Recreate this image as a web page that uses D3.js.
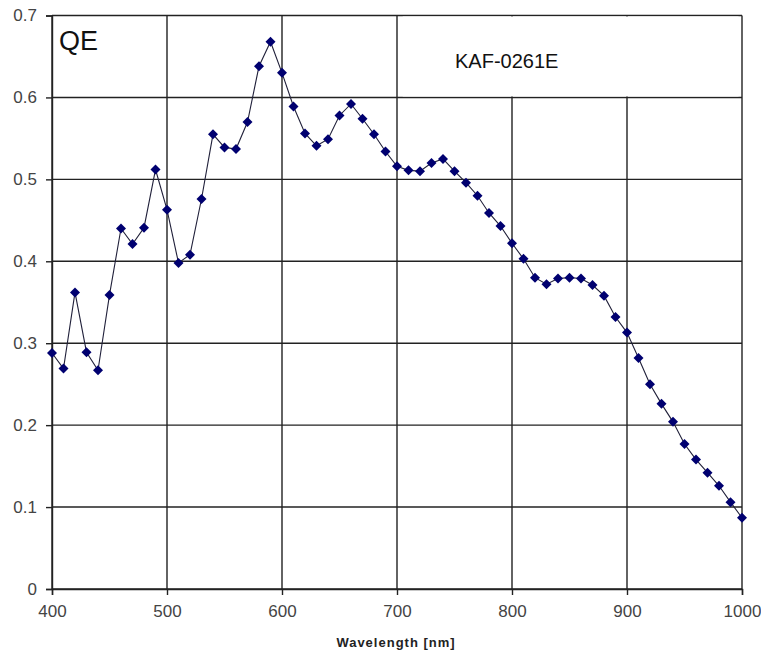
<!DOCTYPE html>
<html>
<head>
<meta charset="utf-8">
<script src="https://cdn.jsdelivr.net/npm/d3@7"></script>
<style>
  body { margin: 0; background: #fff; }
  svg { display: block; font-family: Arial, "Liberation Sans", sans-serif; }
</style>
</head>
<body>
<div id="chart"></div>
<script>
// wavelength in nm, every 10 nm
const wavelengths = d3.range(400, 1001, 10);
const qe = [
  0.288, 0.269, 0.362, 0.289, 0.267, 0.359, 0.440, 0.421, 0.441, 0.512,
  0.463, 0.398, 0.408, 0.476, 0.555, 0.539, 0.537, 0.570, 0.638, 0.668,
  0.630, 0.589, 0.556, 0.541, 0.549, 0.578, 0.592, 0.574, 0.555, 0.534,
  0.516, 0.511, 0.510, 0.520, 0.525, 0.510, 0.496, 0.480, 0.459, 0.443,
  0.422, 0.403, 0.380, 0.372, 0.379, 0.380, 0.379, 0.371, 0.358, 0.332,
  0.313, 0.282, 0.250, 0.226, 0.204, 0.177, 0.158, 0.142, 0.126, 0.106,
  0.087
];
const xTicks = [400, 500, 600, 700, 800, 900, 1000];
const yTicks = [0, 0.1, 0.2, 0.3, 0.4, 0.5, 0.6, 0.7];

const data = wavelengths.map((w, i) => ({ w: w, v: qe[i] }));

const W = 761, H = 653;
const plotLeft = 52, plotRight = 742, plotTop = 15.5, plotBottom = 589;

const svg = d3.select("#chart").append("svg")
  .attr("width", W)
  .attr("height", H);

const x = d3.scaleLinear().domain([400, 1000]).range([plotLeft, plotRight]);
const y = d3.scaleLinear().domain([0, 0.7]).range([plotBottom, plotTop]);

const gridColor = "#222";

// gridlines
svg.append("g").selectAll("line")
  .data(yTicks)
  .join("line")
  .attr("x1", plotLeft).attr("x2", plotRight)
  .attr("y1", d => y(d)).attr("y2", d => y(d))
  .attr("stroke", gridColor)
  .attr("stroke-width", 1.4);

svg.append("g").selectAll("line")
  .data(xTicks)
  .join("line")
  .attr("x1", d => x(d)).attr("x2", d => x(d))
  .attr("y1", plotTop).attr("y2", plotBottom)
  .attr("stroke", gridColor)
  .attr("stroke-width", 1.4);

// label box hides the grid behind the sensor name
svg.append("rect")
  .attr("x", x(705)).attr("y", y(0.7) + 1)
  .attr("width", x(997) - x(705))
  .attr("height", y(0.6) - y(0.7) - 2)
  .attr("fill", "#fff");

// axes
const xAxis = svg.append("g")
  .attr("transform", `translate(0,${plotBottom})`)
  .call(d3.axisBottom(x).tickValues(xTicks).tickSize(6).tickPadding(10).tickFormat(d3.format("d")));
const yAxis = svg.append("g")
  .attr("transform", `translate(${plotLeft},0)`)
  .call(d3.axisLeft(y).tickValues(yTicks).tickSize(6).tickPadding(9).tickFormat(d => d === 0 ? "0" : d3.format(".1f")(d)));

[xAxis, yAxis].forEach(a => {
  a.select(".domain").attr("stroke", gridColor).attr("stroke-width", 1.4);
  a.selectAll(".tick line").attr("stroke", gridColor).attr("stroke-width", 1.4);
  a.selectAll(".tick text")
    .attr("fill", "#444")
    .style("font-size", "17px")
    .style("font-family", "Arial, 'Liberation Sans', sans-serif");
});

// series
const line = d3.line().x(d => x(d.w)).y(d => y(d.v));
svg.append("path")
  .datum(data)
  .attr("d", line)
  .attr("fill", "none")
  .attr("stroke", "#20203a")
  .attr("stroke-width", 1.1);

svg.append("g").selectAll("path")
  .data(data)
  .join("path")
  .attr("transform", d => `translate(${x(d.w)},${y(d.v)})`)
  .attr("d", "M0,-5L5,0L0,5L-5,0Z")
  .attr("fill", "#000070");

// text
svg.append("text")
  .attr("x", 59).attr("y", 50)
  .style("font-size", "27px")
  .attr("fill", "#111")
  .text("QE");

svg.append("text")
  .attr("x", 455).attr("y", 68)
  .style("font-size", "20px")
  .attr("fill", "#111")
  .text("KAF-0261E");

svg.append("text")
  .attr("x", 396).attr("y", 647)
  .attr("text-anchor", "middle")
  .style("font-size", "13px")
  .style("font-weight", "bold")
  .style("letter-spacing", "1px")
  .attr("fill", "#222")
  .text("Wavelength [nm]");
</script>
</body>
</html>
